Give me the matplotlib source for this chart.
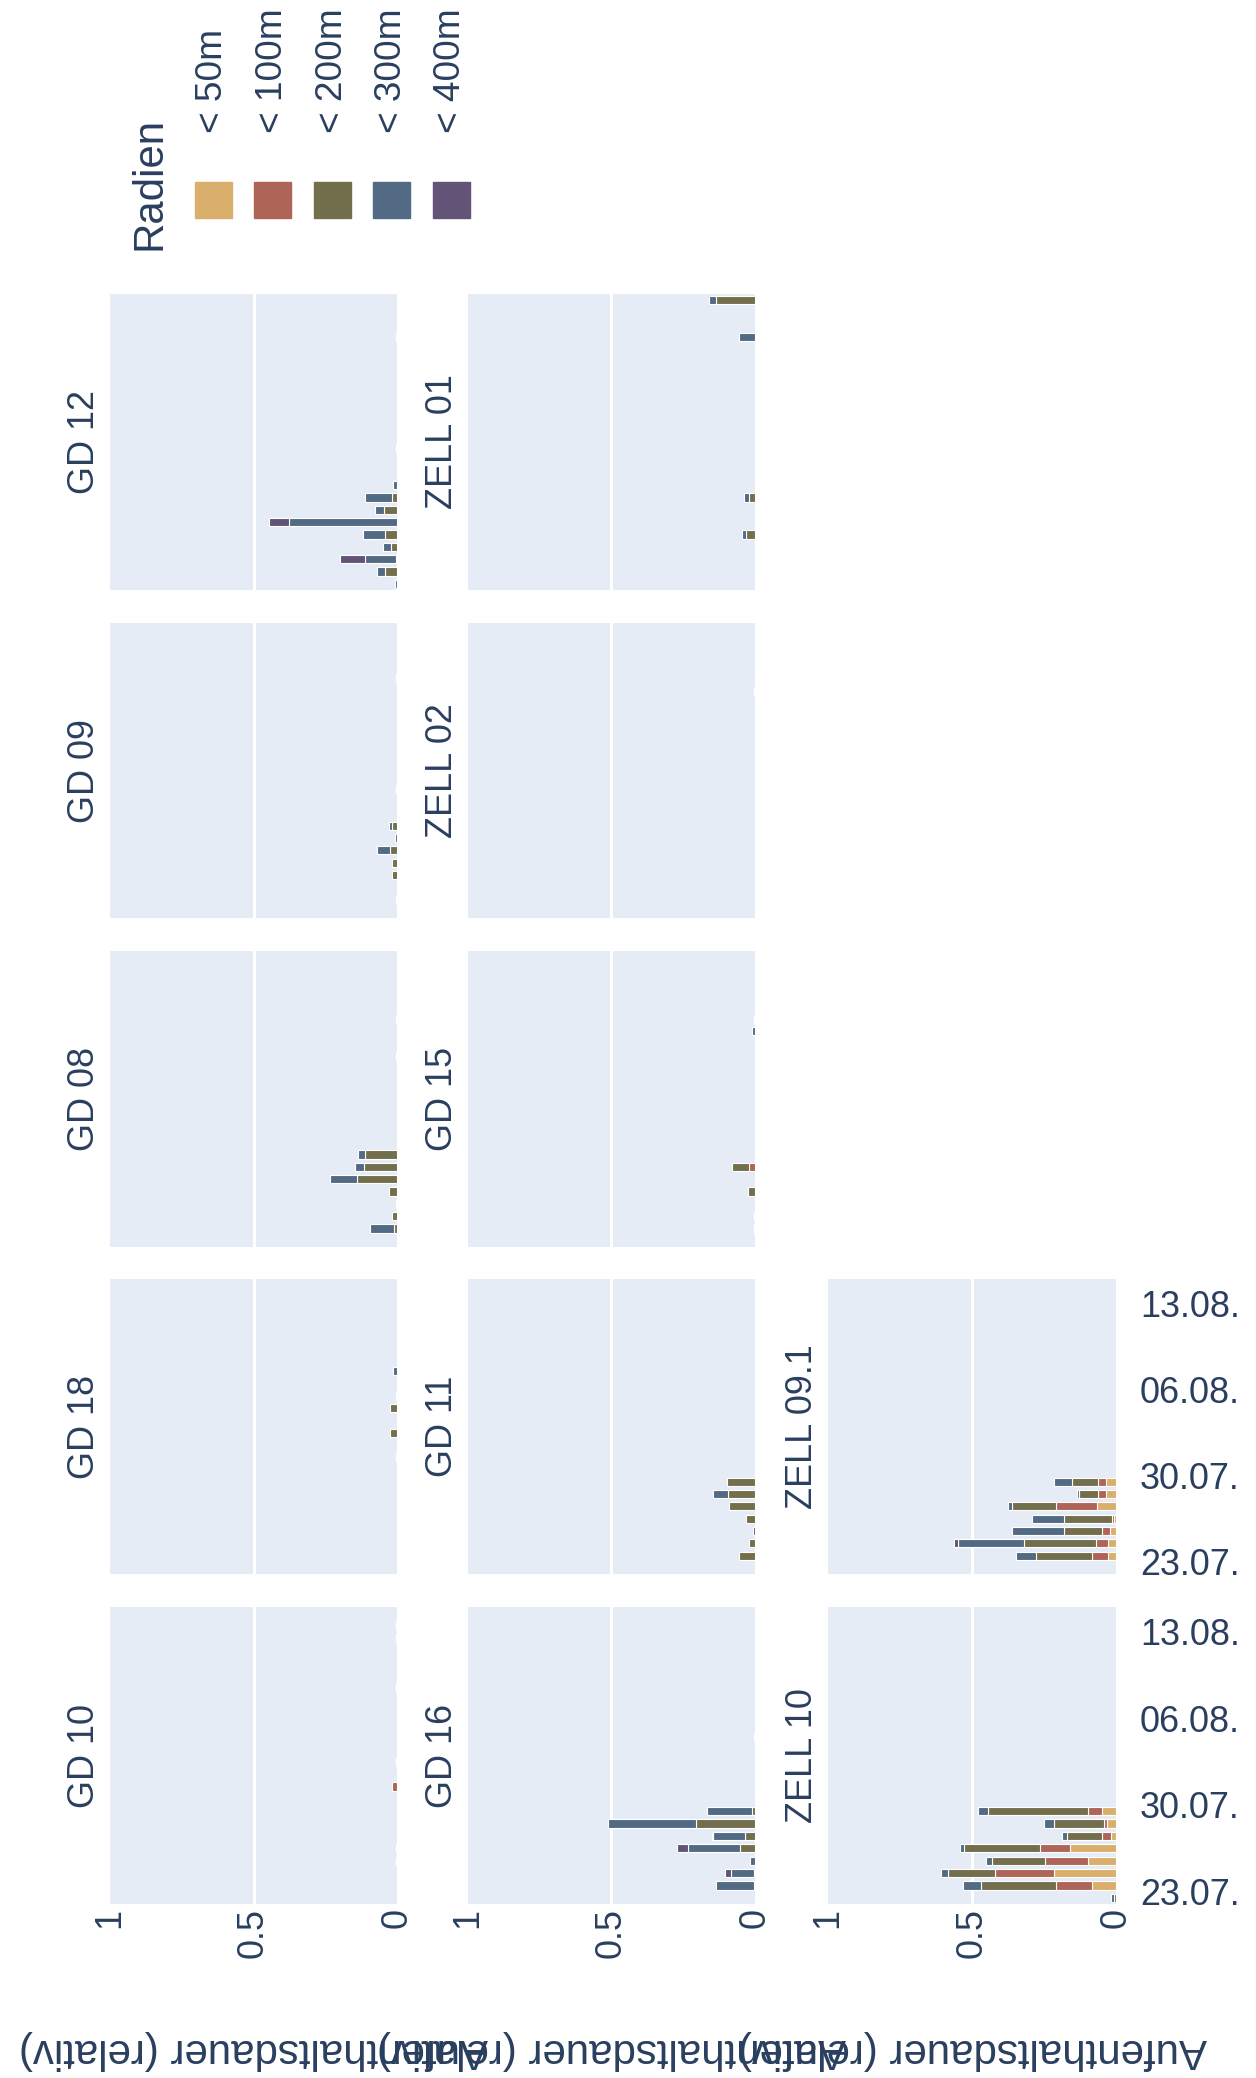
import matplotlib
matplotlib.use('Agg')
import matplotlib.pyplot as plt
import matplotlib.dates as mdates
from matplotlib.patches import Rectangle
import numpy as np
import pandas as pd

# --- data -------------------------------------------------------------
radien = ['< 50m', '< 100m', '< 200m', '< 300m', '< 400m']
farben = ['#D9AF6B', '#AF6458', '#736F4C', '#526A83', '#625377']

# every row: share of < 50m, < 100m, < 200m, < 300m, < 400m
gd12_tage = ['22.07.', '23.07.', '24.07.', '25.07.', '26.07.', '27.07.', '28.07.', '29.07.', '30.07.', '02.08.', '11.08.']
gd12_werte = [[0, 0, 0, .008, 0], [0, 0, .041, .029, 0], [0, 0, .004, .109, .085], [0, 0, .020, .028, 0],
              [0, 0, .043, .077, 0], [0, 0, 0, .375, .071], [0, 0, .047, .029, 0], [0, 0, .017, .094, 0],
              [0, 0, 0, .014, 0], [0, 0, 0, .003, 0], [0, 0, 0, .003, 0]]

gd09_tage = ['23.07.', '25.07.', '26.07.', '27.07.', '28.07.', '29.07.', '01.08.', '10.08.']
gd09_werte = [[0, 0, 0, .005, 0], [0, 0, .018, 0, 0], [0, 0, .017, 0, 0], [0, 0, .024, .046, 0],
              [0, 0, 0, .006, 0], [0, 0, .016, .012, 0], [0, 0, 0, .002, 0], [0, 0, 0, .002, 0]]

gd08_tage = ['23.07.', '24.07.', '25.07.', '26.07.', '27.07.', '28.07.', '29.07.', '06.08.', '09.08.']
gd08_werte = [[0, 0, .012, .081, 0], [0, 0, .018, 0, 0], [0, 0, 0, .004, 0], [0, 0, .028, 0, 0],
              [0, 0, .141, .091, 0], [0, 0, .114, .032, 0], [0, 0, .112, .023, 0], [0, 0, 0, .002, 0],
              [0, 0, 0, .002, 0]]

gd18_tage = ['31.07.', '02.08.', '04.08.', '05.08.', '07.08.']
gd18_werte = [[0, 0, 0, .002, 0], [0, 0, .026, 0, 0], [0, 0, .026, 0, 0], [0, 0, 0, .005, 0],
              [0, 0, 0, .013, 0]]

gd10_tage = ['25.07.', '26.07.', '31.07.', '02.08.', '08.08.', '12.08.', '13.08.']
gd10_werte = [[0, 0, 0, .002, 0], [0, 0, 0, .005, 0], [0, .018, 0, 0, 0], [0, 0, 0, .002, 0],
              [0, 0, 0, .003, 0], [0, 0, 0, .004, 0], [0, 0, 0, .002, 0]]

zell01_tage = ['26.07.', '29.07.', '11.08.', '14.08.']
zell01_werte = [[0, 0, .032, .012, 0], [0, 0, .020, .018, 0], [0, 0, 0, .056, 0], [0, 0, .135, .025, 0]]

zell02_tage = ['09.08.']
zell02_werte = [[0, 0, 0, .002, 0]]

gd15_tage = ['23.07.', '24.07.', '26.07.', '28.07.', '08.08.', '09.08.']
gd15_werte = [[0, 0, 0, .002, 0], [0, 0, 0, .004, 0], [0, 0, .023, 0, 0], [0, .022, .059, 0, 0],
              [0, 0, 0, .012, 0], [0, 0, 0, .002, 0]]

gd11_tage = ['23.07.', '24.07.', '25.07.', '26.07.', '27.07.', '28.07.', '29.07.']
gd11_werte = [[0, 0, .057, 0, 0], [0, 0, .020, 0, 0], [0, 0, 0, .006, 0], [0, 0, .033, 0, 0],
              [0, 0, .090, 0, 0], [0, 0, .095, .053, 0], [0, 0, .097, 0, 0]]

gd16_tage = ['23.07.', '24.07.', '25.07.', '26.07.', '27.07.', '28.07.', '29.07.', '04.08.']
gd16_werte = [[0, 0, .005, .130, 0], [0, 0, .005, .080, .018], [0, 0, 0, .017, 0], [0, 0, .051, .182, .040],
              [0, 0, .034, .113, .004], [0, 0, .206, .305, 0], [0, 0, .009, .157, 0], [0, 0, 0, .002, 0]]

zell091_tage = ['23.07.', '24.07.', '25.07.', '26.07.', '27.07.', '28.07.', '29.07.']
zell091_werte = [[.028, .057, .193, .070, 0], [.028, .042, .251, .229, .011], [.020, .029, .130, .183, 0],
                 [.007, .007, .165, .113, 0], [.067, .140, .155, .012, 0], [.035, .029, .064, .008, 0],
                 [.035, .029, .089, .061, 0]]

zell10_tage = ['22.07.', '23.07.', '24.07.', '25.07.', '26.07.', '27.07.', '28.07.', '29.07.']
zell10_werte = [[0, 0, .008, .008, 0], [.083, .124, .263, .062, 0], [.216, .203, .166, .024, 0],
                [.097, .151, .181, .021, 0], [.158, .106, .263, .013, 0], [.016, .032, .123, .018, 0],
                [.032, .009, .174, .036, 0], [.048, .048, .347, .035, 0]]

datum_ticks = ['23.07.', '30.07.', '06.08.', '13.08.']
wert_ticks = [1, 0.5, 0]
wert_labels = ['1', '0.5', '0']
achsen_titel = 'Aufenthaltsdauer (relativ)'

# (title, days, values, column, row)
panels = [('GD 12', gd12_tage, gd12_werte, 0, 0),
          ('GD 09', gd09_tage, gd09_werte, 0, 1),
          ('GD 08', gd08_tage, gd08_werte, 0, 2),
          ('GD 18', gd18_tage, gd18_werte, 0, 3),
          ('GD 10', gd10_tage, gd10_werte, 0, 4),
          ('ZELL 01', zell01_tage, zell01_werte, 1, 0),
          ('ZELL 02', zell02_tage, zell02_werte, 1, 1),
          ('GD 15', gd15_tage, gd15_werte, 1, 2),
          ('GD 11', gd11_tage, gd11_werte, 1, 3),
          ('GD 16', gd16_tage, gd16_werte, 1, 4),
          ('ZELL 09.1', zell091_tage, zell091_werte, 2, 3),
          ('ZELL 10', zell10_tage, zell10_werte, 2, 4)]

# --- layout (pixels) ---------------------------------------------------
W, H = 1256, 2078
DPI = 100
col_x = [(110, 397), (468, 755), (828, 1116)]
row_y = [(294, 590), (623, 918), (951, 1247), (1279, 1574), (1607, 1904)]
TXT = '#2a3f5f'
BG = '#E5ECF6'


def pt(px):
    return px * 72.0 / DPI


def tage_num(tage, mittag=0.5):
    d = pd.to_datetime([t + '2023' for t in tage], format='%d.%m.%Y')
    return mdates.date2num(d) + mittag


plt.rcParams['font.family'] = ['Liberation Sans', 'DejaVu Sans']
fig = plt.figure(figsize=(W / DPI, H / DPI), dpi=DPI)

y_start = tage_num(['22.07.'], 0)[0]
y_ende = tage_num(['15.08.'], 0)[0]

for name, tage, werte, c, r in panels:
    x0, x1 = col_x[c]
    y0, y1 = row_y[r]
    ax = fig.add_axes([x0 / W, 1 - y1 / H, (x1 - x0) / W, (y1 - y0) / H])
    ax.set_facecolor(BG)
    for s in ax.spines.values():
        s.set_visible(False)
    ax.axvline(0.5, color='white', lw=2.2, zorder=1)

    y = tage_num(tage)
    w = np.array(werte, dtype=float)
    links = np.zeros(len(y))
    for k in range(len(radien)):
        m = w[:, k] > 0
        if m.any():
            ax.barh(y[m], w[m, k], left=links[m], height=0.66, color=farben[k],
                    edgecolor='white', linewidth=0.8, zorder=2)
        links += w[:, k]

    ax.set_xlim(1, 0)
    ax.set_ylim(y_start, y_ende)

    # value ticks only under the bottom row
    if r == 4:
        ax.set_xticks(wert_ticks)
        ax.set_xticklabels(wert_labels, rotation=90, fontsize=pt(36), color=TXT)
        ax.tick_params(axis='x', length=0, pad=pt(4))
    else:
        ax.set_xticks([])

    # date ticks only next to the last column
    if c == 2:
        ax.yaxis.tick_right()
        ax.set_yticks(tage_num(datum_ticks, 0))
        ax.set_yticklabels(datum_ticks, fontsize=pt(36), color=TXT)
        ax.tick_params(axis='y', length=0, pad=pt(24))
    else:
        ax.set_yticks([])

    fig.text((x0 - 26) / W, 1 - (y0 + y1) / 2 / H, name, rotation=90,
             ha='center', va='center', fontsize=pt(36), color=TXT)

# shared axis titles, upside down (they overlap in the original too)
for x0, x1 in col_x:
    fig.text((x0 + x1) / 2 / W, 1 - 2050 / H, achsen_titel, rotation=180,
             ha='center', va='center', fontsize=pt(42), color=TXT)

# legend
fig.text(150 / W, 1 - 183 / H, 'Radien', rotation=90, ha='center', va='center',
         fontsize=pt(42), color=TXT)
for k, (lab, farbe) in enumerate(zip(radien, farben)):
    xc = 213 + k * 59.5
    fig.add_artist(Rectangle(((xc - 18.5) / W, 1 - 218 / H), 37 / W, 36 / H,
                             transform=fig.transFigure, color=farbe))
    fig.text(xc / W, 1 - 133 / H, lab, rotation=90, ha='center', va='bottom',
             fontsize=pt(37), color=TXT)

fig.savefig('out.png', dpi=DPI, facecolor='white')
